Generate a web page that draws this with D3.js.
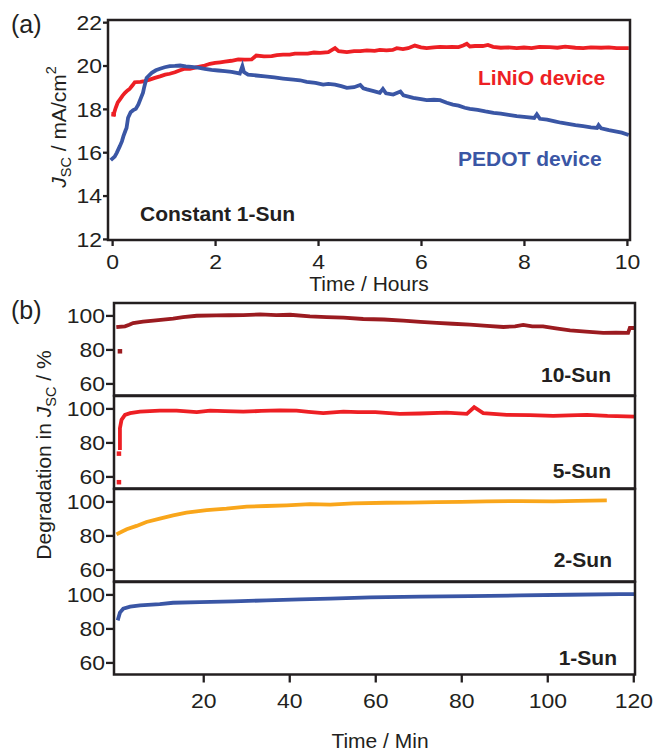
<!DOCTYPE html>
<html><head><meta charset="utf-8">
<script src="https://cdn.jsdelivr.net/npm/d3@7/dist/d3.min.js"></script>
<style>
html,body{margin:0;padding:0;background:#fff;}
svg{display:block;font-family:"Liberation Sans",Arial,Helvetica,sans-serif;}
</style></head>
<body>
<svg id="chart" width="653" height="751"></svg>
<script>
// ---------- DATA ----------
// Panel (a): time in hours, Jsc in mA/cm2
const liNiO = [[0.03,17.75],[0.07,18.05],[0.11,18.3],[0.15,18.43],[0.2,18.6],[0.25,18.74],[0.3,18.85],[0.34,18.92],[0.4,19.1],[0.44,19.23],[0.55,19.25],[0.63,19.28],[0.73,19.35],[0.83,19.43],[0.93,19.5],[1.03,19.58],[1.12,19.62],[1.22,19.69],[1.32,19.78],[1.41,19.85],[1.51,19.85],[1.61,19.9],[1.7,19.95],[1.8,20.0],[1.9,20.08],[2.0,20.12],[2.1,20.15],[2.19,20.18],[2.32,20.22],[2.45,20.28],[2.58,20.27],[2.71,20.28],[2.8,20.46],[2.95,20.42],[3.1,20.43],[3.2,20.48],[3.32,20.5],[3.45,20.5],[3.55,20.55],[3.65,20.55],[3.8,20.55],[3.92,20.6],[4.04,20.58],[4.2,20.62],[4.33,20.8],[4.4,20.66],[4.56,20.62],[4.7,20.66],[4.82,20.66],[4.95,20.7],[5.1,20.68],[5.2,20.72],[5.33,20.7],[5.45,20.72],[5.53,20.8],[5.65,20.76],[5.75,20.8],[5.88,20.92],[6.0,20.84],[6.11,20.8],[6.25,20.84],[6.37,20.86],[6.5,20.85],[6.6,20.86],[6.73,20.85],[6.82,20.92],[6.89,21.0],[6.95,20.88],[7.05,20.9],[7.2,20.9],[7.3,20.95],[7.4,20.86],[7.55,20.82],[7.7,20.84],[7.86,20.8],[8.0,20.83],[8.15,20.8],[8.3,20.86],[8.5,20.85],[8.65,20.82],[8.8,20.87],[9.0,20.82],[9.15,20.8],[9.3,20.84],[9.5,20.82],[9.65,20.84],[9.8,20.8],[10.0,20.8]];
const pedot = [[0.0,15.69],[0.05,15.8],[0.09,15.97],[0.15,16.28],[0.19,16.5],[0.22,16.74],[0.26,17.0],[0.28,17.12],[0.31,17.59],[0.36,17.85],[0.41,17.94],[0.46,18.0],[0.51,18.2],[0.56,18.51],[0.6,18.75],[0.62,18.97],[0.65,19.25],[0.67,19.43],[0.72,19.55],[0.77,19.66],[0.85,19.78],[0.93,19.85],[1.02,19.92],[1.12,19.97],[1.22,19.98],[1.32,20.0],[1.43,19.96],[1.54,19.94],[1.67,19.9],[1.8,19.85],[1.93,19.8],[2.06,19.77],[2.19,19.74],[2.32,19.71],[2.42,19.66],[2.48,19.63],[2.53,19.97],[2.56,19.7],[2.64,19.58],[2.8,19.54],[2.97,19.5],[3.15,19.45],[3.32,19.4],[3.52,19.35],[3.65,19.32],[3.78,19.25],[3.95,19.2],[4.1,19.12],[4.2,19.15],[4.33,19.12],[4.45,19.05],[4.56,18.97],[4.7,19.0],[4.82,19.1],[4.88,18.95],[4.95,18.9],[5.08,18.82],[5.2,18.74],[5.26,18.92],[5.32,18.72],[5.46,18.66],[5.6,18.8],[5.66,18.62],[5.85,18.51],[6.0,18.45],[6.11,18.4],[6.25,18.42],[6.37,18.4],[6.5,18.28],[6.62,18.2],[6.73,18.15],[6.85,18.05],[6.95,18.0],[7.1,17.95],[7.25,17.88],[7.41,17.82],[7.55,17.78],[7.7,17.72],[7.86,17.66],[8.05,17.62],[8.2,17.58],[8.25,17.75],[8.31,17.54],[8.45,17.5],[8.6,17.42],[8.72,17.36],[8.83,17.32],[9.0,17.25],[9.15,17.2],[9.3,17.15],[9.42,17.12],[9.45,17.25],[9.5,17.1],[9.65,17.02],[9.8,16.95],[9.9,16.9],[10.0,16.82]];
const xTicksA = [0,2,4,6,8,10];
const yTicksA = [12,14,16,18,20,22];

// Panel (b): time in minutes, Jsc relative in %
const sun10 = [[0.23,93.2],[1.8,93.6],[2.8,94.5],[3.7,95.5],[6,96.3],[8.4,96.9],[10.7,97.5],[13,98.1],[15.3,99.0],[18.5,99.8],[23,100],[26,100.1],[29.3,100.2],[33.2,100.6],[37,100.2],[40.2,100.4],[44.8,99.4],[48.7,99.0],[52.6,98.7],[57.2,97.9],[62,97.6],[66.5,96.9],[70.5,96.2],[74.3,95.6],[78,95.1],[82,94.6],[86,93.9],[89.8,93.2],[92.5,93.6],[94.4,94.4],[96.5,93.5],[99,93.6],[102,92.4],[105.3,91.2],[109,90.5],[113,89.7],[116,89.8],[118.8,89.7],[119.2,92.6],[120,92.6]];
const sun10Out = [[0.63,78.9]];
const sun5 = [[0.63,76.7],[0.63,82],[0.63,88.4],[1.0,93.3],[1.8,96.2],[3,97.2],[5.3,98.1],[9.9,98.7],[13.8,98.7],[18.5,97.8],[21.6,98.7],[25,98.4],[29.3,98.1],[33.5,98.5],[37.8,98.9],[41.7,98.7],[44.5,98.0],[47.9,97.2],[52.6,98.1],[56,97.8],[60,97.8],[65.7,96.8],[70.4,97.0],[76.6,97.5],[81.3,96.8],[83,100.7],[85.1,97.2],[90.6,96.2],[96,96.0],[101.4,95.6],[105,95.9],[109.2,96.2],[114,95.6],[120,95.2]];
const sun5Out = [[0.4,73.4],[0.4,56.6]];
const sun2 = [[0.23,81.1],[2.2,83.6],[4.5,85.6],[6.8,87.9],[9.9,89.9],[13,91.8],[16.1,93.4],[20.8,94.9],[25.4,95.7],[30.1,96.9],[34.7,97.3],[39.4,97.7],[44.8,98.4],[49.5,98.1],[54.9,98.8],[62.6,99.2],[68,99.3],[74.3,99.6],[80,99.7],[85.9,100],[93.7,100.2],[101.4,100],[107,100.3],[113.4,100.6]];
const sun1 = [[0.23,85.8],[0.63,89.3],[1.4,91.6],[3,92.8],[5.3,93.6],[9.9,94.3],[13,95.1],[19.2,95.5],[27,95.9],[34.7,96.5],[42.5,97.1],[49.5,97.5],[58.8,98.2],[70.4,98.7],[82,99.0],[93.7,99.4],[105.3,99.8],[116.9,100.2],[120,100.2]];
const xTicksB = [20,40,60,80,100,120];
const yTicksB = [60,80,100];
const subLabels = ["10-Sun","5-Sun","2-Sun","1-Sun"];

// ---------- STYLE ----------
const INK = "#231f20";
const C_RED = "#ed1f24", C_BLUE = "#3a56a5", C_DRED = "#9b1b20", C_ORANGE = "#f9a61b";
const TICKFS = 20.5, TICKSX = 1.12;

const svg = d3.select("#chart");

function styleAxis(g, dir, offset) {
  g.select(".domain").remove();
  g.selectAll(".tick line").attr("stroke", INK).attr("stroke-width", 2.3);
  g.selectAll(".tick text").attr("fill", INK).style("font-size", TICKFS + "px")
    .attr("font-family", "Liberation Sans, Arial, sans-serif");
  if (dir === "left") {
    g.selectAll(".tick text").attr("x", -offset / TICKSX).attr("dy", "0.35em")
      .attr("transform", `scale(${TICKSX},1)`);
  } else {
    g.selectAll(".tick text").attr("y", offset).attr("dy", 0)
      .attr("transform", `scale(${TICKSX},1)`);
  }
}

function drawSeries(g, data, x, y, color, w) {
  g.append("path").datum(data)
    .attr("fill", "none").attr("stroke", color).attr("stroke-width", w)
    .attr("stroke-linejoin", "miter").attr("stroke-linecap", "square")
    .attr("d", d3.line().x(d => x(d[0])).y(d => y(d[1])));
}
function drawSquares(g, data, x, y, color, s) {
  g.selectAll(null).data(data).enter().append("rect")
    .attr("x", d => x(d[0]) - s / 2).attr("y", d => y(d[1]) - s / 2)
    .attr("width", s).attr("height", s).attr("fill", color);
}

// ---------- PANEL A ----------
const A = {l: 108, r: 630, t: 20, b: 240};
const xA = d3.scaleLinear().domain([-0.08, 10.06]).range([A.l, A.r]);
const yA = d3.scaleLinear().domain([11.95, 22.1]).range([A.b, A.t]);
const gA = svg.append("g");
drawSeries(gA, liNiO, xA, yA, C_RED, 3.8);
drawSeries(gA, pedot, xA, yA, C_BLUE, 3.8);
drawSquares(gA, [liNiO[0]], xA, yA, C_RED, 4.5);
gA.append("rect").attr("x", A.l).attr("y", A.t).attr("width", A.r - A.l).attr("height", A.b - A.t)
  .attr("fill", "none").attr("stroke", INK).attr("stroke-width", 2.5);
gA.append("g").attr("transform", `translate(0,${A.b})`)
  .call(d3.axisBottom(xA).tickValues(xTicksA).tickSize(6).tickFormat(d3.format("d")))
  .call(g => styleAxis(g, "bottom", 29));
gA.append("g").attr("transform", `translate(${A.l},0)`)
  .call(d3.axisLeft(yA).tickValues(yTicksA).tickSize(5).tickFormat(d3.format("d")))
  .call(g => styleAxis(g, "left", 6));

svg.append("text").attr("x", 11).attr("y", 33).attr("fill", INK).style("font-size", "25px").text("(a)");
svg.append("text").attr("x", 369).attr("y", 291).attr("text-anchor", "middle").attr("fill", INK)
  .style("font-size", "21px").text("Time / Hours");
const ylA = svg.append("text").attr("transform", "translate(66,127) rotate(-90)")
  .attr("text-anchor", "middle").attr("fill", INK).style("font-size", "21px");
ylA.append("tspan").attr("font-style", "italic").text("J");
ylA.append("tspan").attr("dy", 5).style("font-size", "14.5px").text("SC");
ylA.append("tspan").attr("dy", -5).text(" / mA/cm");
ylA.append("tspan").attr("dy", -10).style("font-size", "14.5px").text("2");

svg.append("text").attr("x", 140).attr("y", 221).attr("fill", INK).attr("font-weight", "bold")
  .style("font-size", "21px").text("Constant 1-Sun");
svg.append("text").attr("x", 478).attr("y", 85).attr("fill", C_RED).attr("font-weight", "bold")
  .style("font-size", "21px").text("LiNiO device");
svg.append("text").attr("x", 458).attr("y", 165.5).attr("fill", C_BLUE).attr("font-weight", "bold")
  .style("font-size", "21px").text("PEDOT device");

// ---------- PANEL B ----------
const B = {l: 114, r: 635};
const tops = [303, 396, 489, 582];
const H = 92.5;
const xB = d3.scaleLinear().domain([-0.75, 120.4]).range([B.l, B.r]);
const seriesB = [sun10, sun5, sun2, sun1];
const outB = [sun10Out, sun5Out, [], []];
const colB = [C_DRED, C_RED, C_ORANGE, C_BLUE];
const labelY = [381.5, 477.5, 566.5, 665];
const labelR = [611, 611, 612, 617];

tops.forEach((top, i) => {
  const yB = d3.scaleLinear().domain([52.9, 107.3]).range([top + H, top]);
  const g = svg.append("g");
  drawSeries(g, seriesB[i], xB, yB, colB[i], 3.8);
  drawSquares(g, outB[i], xB, yB, colB[i], 4.5);
  g.append("rect").attr("x", B.l).attr("y", top).attr("width", B.r - B.l).attr("height", H)
    .attr("fill", "none").attr("stroke", INK).attr("stroke-width", 2.5);
  g.append("g").attr("transform", `translate(${B.l},0)`)
    .call(d3.axisLeft(yB).tickValues(yTicksB).tickSize(8).tickFormat(d3.format("d")))
    .call(gg => styleAxis(gg, "left", 9));
  svg.append("text").attr("x", labelR[i]).attr("y", labelY[i]).attr("text-anchor", "end")
    .attr("fill", INK).attr("font-weight", "bold").style("font-size", "21px").text(subLabels[i]);
});
const botB = tops[3] + H;
svg.append("g").attr("transform", `translate(0,${botB})`)
  .call(d3.axisBottom(xB).tickValues(xTicksB).tickSize(8).tickFormat(d3.format("d")))
  .call(g => styleAxis(g, "bottom", 34));

svg.append("text").attr("x", 11).attr("y", 319).attr("fill", INK).style("font-size", "25px").text("(b)");
svg.append("text").attr("x", 380).attr("y", 748).attr("text-anchor", "middle").attr("fill", INK)
  .style("font-size", "21px").text("Time / Min");
const ylB = svg.append("text").attr("transform", "translate(51,455) rotate(-90)")
  .attr("text-anchor", "middle").attr("fill", INK).style("font-size", "21px");
ylB.append("tspan").text("Degradation in ");
ylB.append("tspan").attr("font-style", "italic").text("J");
ylB.append("tspan").attr("dy", 5).style("font-size", "14.5px").text("SC");
ylB.append("tspan").attr("dy", -5).text(" / %");
</script>
</body></html>
